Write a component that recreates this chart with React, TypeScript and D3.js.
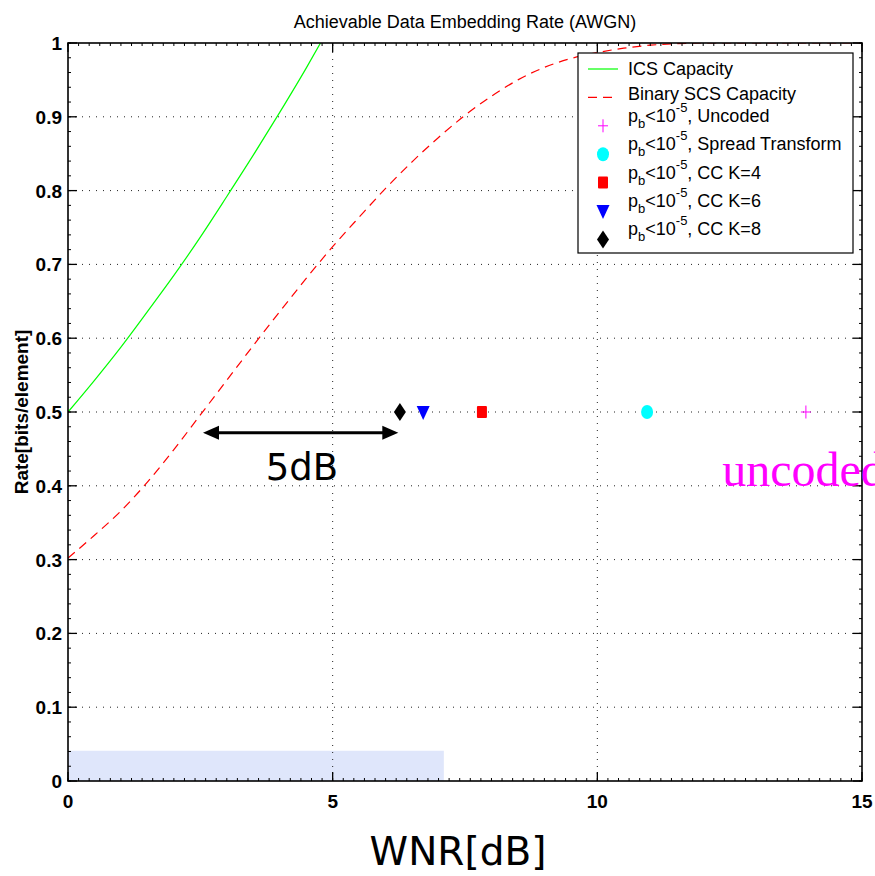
import React from 'react';
import * as d3 from 'd3';

// ICS capacity curve
const icsWnr = [0, 0.5, 1, 1.5, 2, 2.5, 3, 3.5, 4, 4.5, 4.77];
const icsRate = [0.5, 0.543, 0.588, 0.636, 0.685, 0.737, 0.792, 0.848, 0.906, 0.966, 1.0];

// Binary SCS capacity curve
const scsWnr = [0, 0.5, 1, 1.5, 2, 2.5, 3, 3.5, 4, 4.5, 5, 5.5, 6, 6.5, 7, 7.5, 8, 8.5, 9, 9.5, 10, 10.5, 11, 11.5, 12, 13, 14, 15];
const scsRate = [0.302, 0.333, 0.366, 0.405, 0.449, 0.496, 0.543, 0.59, 0.636, 0.681, 0.724, 0.764, 0.803, 0.839, 0.872, 0.902, 0.928, 0.95, 0.967, 0.979, 0.987, 0.993, 0.997, 0.999, 1.0, 1.0, 1.0, 1.0];

// p_b < 1e-5 operating points
const pointNames = ['Uncoded', 'Spread Transform', 'CC K=4', 'CC K=6', 'CC K=8'];
const pointWnr = [13.94, 10.94, 7.82, 6.71, 6.27];
const pointRate = [0.5, 0.5, 0.5, 0.5, 0.5];

const xTicks = [0, 5, 10, 15];
const yTicks = [0, 0.1, 0.2, 0.3, 0.4, 0.5, 0.6, 0.7, 0.8, 0.9, 1];

// annotations
const gapWnr = [2.55, 6.24];
const gapRate = 0.472;
const shadeWnr = [0, 7.1];
const shadeRate = [0, 0.041];

const W = 875;
const H = 876;
const sans = 'Liberation Sans, Arial, Helvetica, sans-serif';

const markerColors = ['#ff00ff', '#00ffff', '#ff0000', '#0000ff', '#000000'];

function Marker({ kind, cx, cy }: { kind: number; cx: number; cy: number }) {
  const c = markerColors[kind];
  const t = `translate(${cx},${cy})`;
  if (kind === 0) return <path transform={t} d="M-5,0H5M0,-6.5V6.5" stroke={c} strokeWidth={1} fill="none" />;
  if (kind === 1) return <ellipse cx={cx} cy={cy} rx={6} ry={7} fill={c} />;
  if (kind === 2) return <rect x={cx - 5} y={cy - 6} width={10} height={12} rx={1} fill={c} />;
  if (kind === 3) return <path transform={t} d="M-6.5,-6L6.5,-6L0,8Z" fill={c} />;
  return <path transform={t} d="M0,-9L6,0L0,9L-6,0Z" fill={c} />;
}

export default function App() {
  const x = d3.scaleLinear().domain([0, 15]).range([68, 862]);
  const y = d3.scaleLinear().domain([0, 1]).range([781, 43]);
  const [x0, x1] = x.range();
  const [y0, y1] = y.range();

  const icsPath =
    d3.line<number>().x((d) => x(d)).y((_, i) => y(icsRate[i])).curve(d3.curveMonotoneX)(icsWnr) || '';
  const scsPath =
    d3.line<number>().x((d) => x(d)).y((_, i) => y(scsRate[i])).curve(d3.curveMonotoneX)(scsWnr) || '';

  const xMinor = d3.range(0, 15.0001, 0.2);
  const yMinor = d3.range(0, 1.0001, 0.02);

  const gy = y(gapRate);
  const ax0 = x(gapWnr[0]);
  const ax1 = x(gapWnr[1]);

  const legX = 578;
  const legY = 53;
  const rowY = (i: number) => 69 + 28.4 * i;

  return (
    <svg width={W} height={H} style={{ position: 'absolute', left: 0, top: 0, background: '#fff' }}>
      <defs>
        <clipPath id="plot">
          <rect x={x0} y={y1} width={x1 - x0} height={y0 - y1} />
        </clipPath>
      </defs>
      <rect x={0} y={0} width={W} height={H} fill="#fff" />

      {/* shaded band */}
      <rect
        x={x(shadeWnr[0])}
        y={y(shadeRate[1])}
        width={x(shadeWnr[1]) - x(shadeWnr[0])}
        height={y(shadeRate[0]) - y(shadeRate[1])}
        fill="#dfe6fb"
      />

      {/* grid */}
      {yTicks.slice(1, -1).map((t) => (
        <line key={'gy' + t} x1={x0} x2={x1} y1={y(t)} y2={y(t)} stroke="#222" strokeDasharray="1,6" />
      ))}
      {xTicks.slice(1, -1).map((t) => (
        <line key={'gx' + t} x1={x(t)} x2={x(t)} y1={y0} y2={y1} stroke="#222" strokeDasharray="1,6" />
      ))}

      {/* curves */}
      <g clipPath="url(#plot)">
        <path d={icsPath} fill="none" stroke="#00ff00" strokeWidth={1.2} />
        <path d={scsPath} fill="none" stroke="#ff0000" strokeWidth={1.2} strokeDasharray="9,6" />
      </g>

      {/* points */}
      {pointWnr.map((w, i) => (
        <Marker key={'p' + i} kind={i} cx={x(w)} cy={y(pointRate[i])} />
      ))}

      {/* axes box and ticks */}
      <rect x={x0} y={y1} width={x1 - x0} height={y0 - y1} fill="none" stroke="#000" strokeWidth={1.6} />
      {xMinor.map((t) => (
        <g key={'xm' + t}>
          <line x1={x(t)} x2={x(t)} y1={y0} y2={y0 - 3} stroke="#000" />
          <line x1={x(t)} x2={x(t)} y1={y1} y2={y1 + 3} stroke="#000" />
        </g>
      ))}
      {yMinor.map((t) => (
        <g key={'ym' + t}>
          <line x1={x0} x2={x0 + 3} y1={y(t)} y2={y(t)} stroke="#000" />
          <line x1={x1} x2={x1 - 3} y1={y(t)} y2={y(t)} stroke="#000" />
        </g>
      ))}
      {xTicks.map((t) => (
        <g key={'xt' + t}>
          <line x1={x(t)} x2={x(t)} y1={y0} y2={y0 - 9} stroke="#000" strokeWidth={1.3} />
          <line x1={x(t)} x2={x(t)} y1={y1} y2={y1 + 9} stroke="#000" strokeWidth={1.3} />
          <text x={x(t)} y={808} textAnchor="middle" fontFamily={sans} fontWeight="bold" fontSize={19}>
            {t}
          </text>
        </g>
      ))}
      {yTicks.map((t) => (
        <g key={'yt' + t}>
          <line x1={x0} x2={x0 + 9} y1={y(t)} y2={y(t)} stroke="#000" strokeWidth={1.3} />
          <line x1={x1} x2={x1 - 9} y1={y(t)} y2={y(t)} stroke="#000" strokeWidth={1.3} />
          <text x={62} y={y(t) + 7} textAnchor="end" fontFamily={sans} fontWeight="bold" fontSize={19}>
            {t}
          </text>
        </g>
      ))}

      {/* 5dB gap arrow */}
      <line x1={ax0 + 12} x2={ax1 - 12} y1={gy} y2={gy} stroke="#000" strokeWidth={3} />
      <path d={`M${ax0},${gy}L${ax0 + 16},${gy - 7}L${ax0 + 16},${gy + 7}Z`} fill="#000" />
      <path d={`M${ax1},${gy}L${ax1 - 16},${gy - 7}L${ax1 - 16},${gy + 7}Z`} fill="#000" />
      <text x={x(4.42)} y={480} textAnchor="middle" fontFamily="DejaVu Sans" fontSize={37}>
        5dB
      </text>

      <text x={x(12.36)} y={486} fontFamily="Liberation Serif, Times New Roman, serif" fontSize={48} fill="#ff00ff">
        uncoded
      </text>

      {/* titles */}
      <text x={465} y={28} textAnchor="middle" fontFamily={sans} fontSize={18}>
        Achievable Data Embedding Rate (AWGN)
      </text>
      <text x={458} y={865} textAnchor="middle" fontFamily="DejaVu Sans" fontSize={39}>
        WNR[dB]
      </text>
      <text transform="translate(28,412) rotate(-90)" textAnchor="middle" fontFamily={sans} fontWeight="bold" fontSize={19}>
        Rate[bits/element]
      </text>

      {/* legend */}
      <rect x={legX} y={legY} width={275} height={200} fill="#fff" stroke="#000" strokeWidth={1.2} />
      <line x1={588} x2={618} y1={rowY(0)} y2={rowY(0)} stroke="#00ff00" strokeWidth={1.2} />
      <text x={628} y={rowY(0) + 6} fontFamily={sans} fontSize={18}>ICS Capacity</text>
      <line x1={588} x2={618} y1={rowY(1)} y2={rowY(1)} stroke="#ff0000" strokeWidth={1.2} strokeDasharray="9,6" />
      <text x={628} y={rowY(1) + 3} fontFamily={sans} fontSize={18}>Binary SCS Capacity</text>
      {pointNames.map((n, i) => {
        const ry = rowY(i + 2);
        return (
          <g key={'l' + i}>
            <Marker kind={i} cx={603} cy={ry} />
            <text x={628} y={ry - 4} fontFamily={sans} fontSize={18}>
              <tspan>p</tspan>
              <tspan fontSize={13} dy={6}>b</tspan>
              <tspan dy={-6}>{'<10'}</tspan>
              <tspan fontSize={13} dy={-10}>-5</tspan>
              <tspan dy={10}>{', ' + n}</tspan>
            </text>
          </g>
        );
      })}
    </svg>
  );
}
